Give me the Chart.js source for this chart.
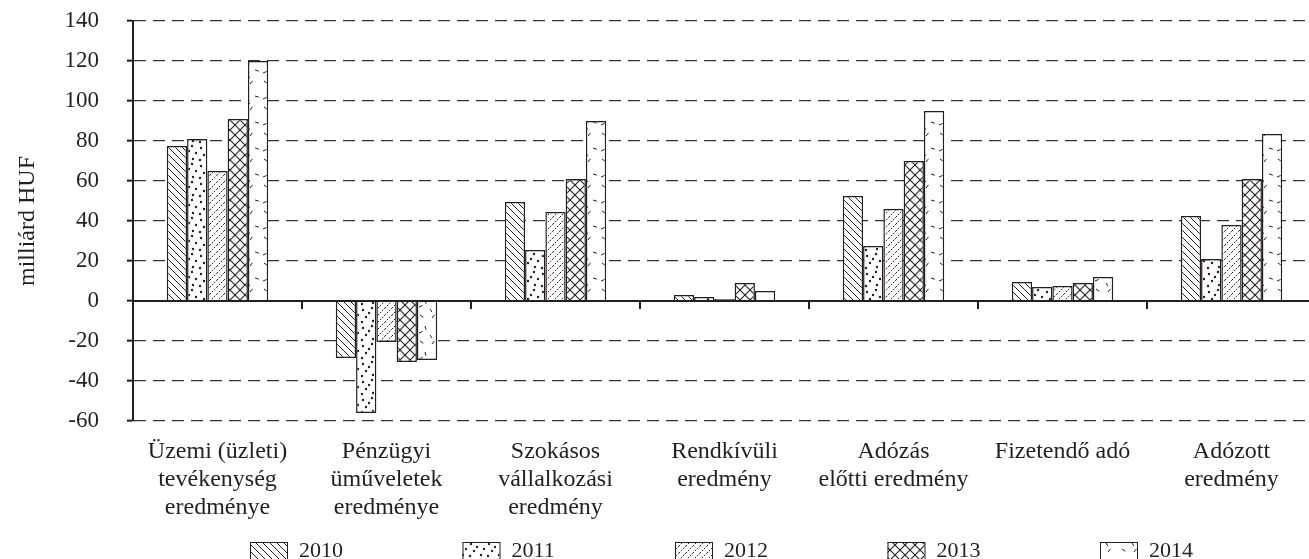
<!DOCTYPE html>
<html>
<head>
<meta charset="utf-8">
<script src="https://cdn.jsdelivr.net/npm/chart.js@4.4.0/dist/chart.umd.min.js"></script>
<style>
  html, body { margin: 0; padding: 0; background: #fff; overflow: hidden; }
  #wrap { width: 1309px; height: 559px; overflow: hidden; }
</style>
</head>
<body>
<div id="wrap"><canvas id="chart" width="1322" height="559"></canvas></div>
<script>
const categories = [
  ['Üzemi (üzleti)', 'tevékenység', 'eredménye'],
  ['Pénzügyi', 'üműveletek', 'eredménye'],
  ['Szokásos', 'vállalkozási', 'eredmény'],
  ['Rendkívüli', 'eredmény'],
  ['Adózás', 'előtti eredmény'],
  'Fizetendő adó',
  ['Adózott', 'eredmény']
];
const years = ['2010', '2011', '2012', '2013', '2014'];
const v2010 = [77.5, -28.5, 49.5, 3, 52.5, 9.5, 42.5];
const v2011 = [81, -56, 25.5, 2, 27.5, 7, 21];
const v2012 = [65, -20.5, 44.5, 1, 46, 7.5, 38];
const v2013 = [91, -30.5, 61, 9, 70, 9, 61];
const v2014 = [120, -29.5, 90, 5, 95, 12, 83.5];
const yTicks = { min: -60, max: 140, step: 20 };

const INK = '#231f20';
const FONT = '"Liberation Serif", "Times New Roman", serif';

function makePattern(size, draw) {
  const c = document.createElement('canvas');
  c.width = size; c.height = size;
  const g = c.getContext('2d');
  g.fillStyle = '#fff';
  g.fillRect(0, 0, size, size);
  g.strokeStyle = INK;
  g.fillStyle = INK;
  draw(g, size);
  return g.createPattern(c, 'repeat');
}

const patBack = makePattern(7, (g, s) => {
  g.lineWidth = 1;
  for (let x = -s; x <= s; x += s) {
    g.beginPath(); g.moveTo(x, 0); g.lineTo(x + s, s); g.stroke();
  }
});
const patDots = makePattern(18, (g) => {
  [[3, 4], [12, 2], [16, 9], [6, 11], [13, 15], [2, 16], [9, 7]].forEach(p => {
    g.beginPath(); g.arc(p[0], p[1], 1.2, 0, Math.PI * 2); g.fill();
  });
});
const patFwd = makePattern(7, (g, s) => {
  g.lineWidth = 1;
  g.setLineDash([1.5, 1.2]);
  for (let x = -s; x <= s; x += s) {
    g.beginPath(); g.moveTo(x, s); g.lineTo(x + s, 0); g.stroke();
  }
});
const patCross = makePattern(10, (g, s) => {
  g.lineWidth = 1.1;
  for (let x = -s; x <= s; x += s) {
    g.beginPath(); g.moveTo(x, 0); g.lineTo(x + s, s); g.stroke();
    g.beginPath(); g.moveTo(x, s); g.lineTo(x + s, 0); g.stroke();
  }
});
const patDash = makePattern(26, (g) => {
  g.lineWidth = 1;
  [[4, 3, 0.6], [16, 6, -0.9], [9, 14, 1.3], [21, 18, 0.3], [3, 21, -0.4], [14, 23, 1.0]].forEach(d => {
    g.beginPath();
    g.moveTo(d[0], d[1]);
    g.lineTo(d[0] + 4 * Math.cos(d[2]), d[1] + 4 * Math.sin(d[2]));
    g.stroke();
  });
});
const patterns = [patBack, patDots, patFwd, patCross, patDash];
const series = [v2010, v2011, v2012, v2013, v2014];

// solid zero line with short ticks between categories
const zeroLine = {
  id: 'zeroLine',
  afterDatasetsDraw(chart) {
    const { ctx, chartArea, scales } = chart;
    const y0 = scales.y.getPixelForValue(0);
    ctx.save();
    ctx.strokeStyle = INK;
    ctx.lineWidth = 2;
    ctx.beginPath();
    ctx.moveTo(chartArea.left, y0);
    ctx.lineTo(chartArea.right, y0);
    ctx.stroke();
    for (let i = 1; i <= categories.length; i++) {
      const x = scales.x.getPixelForValue(i - 0.5);
      ctx.beginPath();
      ctx.moveTo(x, y0);
      ctx.lineTo(x, y0 + 8);
      ctx.stroke();
    }
    ctx.restore();
  }
};

// legend laid out like the original (wide spacing)
const bottomLegend = {
  id: 'bottomLegend',
  afterDraw(chart) {
    const { ctx, chartArea } = chart;
    const gap = 212.5, boxW = 37, boxH = 17;
    const center = (chartArea.left + chartArea.right) / 2;
    const start = center - (gap * (years.length - 1) + 91) / 2 - 4;
    const yTop = 542;
    ctx.save();
    ctx.font = '22px ' + FONT;
    ctx.textBaseline = 'middle';
    ctx.textAlign = 'left';
    chart.data.datasets.forEach((ds, i) => {
      const x = start + i * gap;
      ctx.fillStyle = ds.backgroundColor;
      ctx.fillRect(x, yTop, boxW, boxH);
      ctx.strokeStyle = INK;
      ctx.lineWidth = 1;
      ctx.strokeRect(x + 0.5, yTop + 0.5, boxW, boxH);
      ctx.fillStyle = INK;
      ctx.fillText(ds.label, x + boxW + 12, yTop + boxH / 2 + 1);
    });
    ctx.restore();
  }
};

new Chart(document.getElementById('chart'), {
  type: 'bar',
  data: {
    labels: categories,
    datasets: years.map((yr, i) => ({
      label: yr,
      data: series[i],
      backgroundColor: patterns[i],
      borderColor: INK,
      borderWidth: 1.5,
      categoryPercentage: 0.6,
      barPercentage: 1.0
    }))
  },
  options: {
    responsive: false,
    animation: false,
    layout: { padding: { top: 21, right: 6, bottom: 0, left: 0 } },
    plugins: {
      legend: { display: false },
      tooltip: { enabled: false }
    },
    scales: {
      x: {
        grid: { display: false },
        border: { display: false },
        ticks: {
          color: INK,
          font: { family: FONT, size: 24, lineHeight: 1.17 },
          padding: 9,
          maxRotation: 0,
          autoSkip: false
        },
        afterFit(scale) { scale.height = 138; }
      },
      y: {
        min: yTicks.min,
        max: yTicks.max,
        ticks: {
          stepSize: yTicks.step,
          color: INK,
          font: { family: FONT, size: 23 },
          padding: 28
        },
        grid: {
          color: (c) => (c.tick && c.tick.value === 0) ? 'rgba(0,0,0,0)' : '#333',
          lineWidth: 1.3,
          tickLength: 6,
          tickColor: INK,
          tickWidth: 2,
          tickBorderDash: []
        },
        border: { display: true, color: INK, width: 2, dash: [12, 7] },
        title: {
          display: true,
          text: 'milliárd HUF',
          color: INK,
          font: { family: FONT, size: 24 },
          padding: { top: 13, bottom: 0 }
        },
        afterFit(scale) {
          scale.width = 133;
          scale.paddingTop = 0;
          scale.paddingBottom = 0;
        }
      }
    }
  },
  plugins: [zeroLine, bottomLegend]
});
</script>
</body>
</html>
